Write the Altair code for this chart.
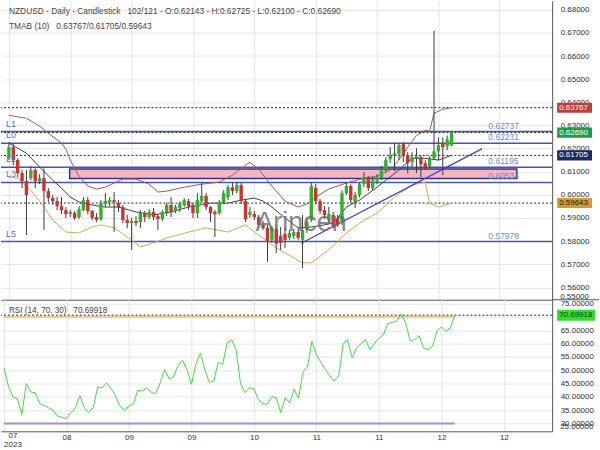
import altair as alt
import pandas as pd

FONT = "Liberation Sans"

# ---------------- data ----------------
opens = [0.6158, 0.6206, 0.6150, 0.6094, 0.6059, 0.6072, 0.6107, 0.6059, 0.6072, 0.6016,
         0.5986, 0.5973, 0.5951, 0.5934, 0.5917, 0.5921, 0.5904, 0.5934, 0.5977, 0.5930,
         0.5904, 0.5895, 0.5960, 0.5969, 0.5977, 0.5964, 0.5947, 0.5891, 0.5878, 0.5887,
         0.5882, 0.5921, 0.5904, 0.5926, 0.5908, 0.5895, 0.5926, 0.5956, 0.5930, 0.5943,
         0.5956, 0.5973, 0.5956, 0.5921, 0.5973, 0.5995, 0.5947, 0.5926, 0.5921, 0.5969,
         0.5990, 0.6033, 0.6016, 0.6042, 0.5973, 0.5913, 0.5917, 0.5904, 0.5870, 0.5857,
         0.5805, 0.5852, 0.5822, 0.5831, 0.5813, 0.5822, 0.5839, 0.5805, 0.5848, 0.5891,
         0.6029, 0.5973, 0.5934, 0.5891, 0.5913, 0.5900, 0.5878, 0.6007, 0.6038, 0.5969,
         0.5999, 0.6046, 0.6072, 0.6029, 0.6059, 0.6076, 0.6111, 0.6154, 0.6171, 0.6176,
         0.6219, 0.6171, 0.6141, 0.6158, 0.6163, 0.6137, 0.6124, 0.6158, 0.6188, 0.6223,
         0.6210, 0.62143]
highs = [0.6227, 0.6223, 0.6158, 0.6107, 0.6107, 0.6124, 0.6115, 0.6089, 0.6115, 0.6029,
         0.5999, 0.5990, 0.5990, 0.5947, 0.5934, 0.5930, 0.5951, 0.5990, 0.5990, 0.5934,
         0.5921, 0.5977, 0.6007, 0.5990, 0.6012, 0.5977, 0.5956, 0.5913, 0.5900, 0.5908,
         0.5934, 0.5930, 0.5938, 0.5943, 0.5917, 0.5934, 0.5964, 0.5990, 0.5956, 0.5969,
         0.5986, 0.5982, 0.5964, 0.6007, 0.6055, 0.6007, 0.5951, 0.5934, 0.5977, 0.6020,
         0.6042, 0.6051, 0.6055, 0.6051, 0.5982, 0.5947, 0.5930, 0.5913, 0.5887, 0.5870,
         0.5865, 0.5870, 0.5861, 0.5857, 0.5848, 0.5852, 0.5857, 0.5913, 0.5900, 0.6051,
         0.6046, 0.5982, 0.5951, 0.5947, 0.5926, 0.5913, 0.6020, 0.6055, 0.6046, 0.6012,
         0.6055, 0.6098, 0.6081, 0.6076, 0.6089, 0.6124, 0.6163, 0.6206, 0.6223, 0.6223,
         0.6227, 0.6184, 0.6184, 0.6201, 0.6171, 0.6150, 0.6167, 0.6710, 0.6249, 0.6249,
         0.6257, 0.62725]
lows = [0.6150, 0.6128, 0.6076, 0.6029, 0.5826, 0.6063, 0.6029, 0.6046, 0.5848, 0.5969,
        0.5956, 0.5934, 0.5917, 0.5900, 0.5904, 0.5891, 0.5895, 0.5930, 0.5917, 0.5891,
        0.5882, 0.5887, 0.5947, 0.5951, 0.5839, 0.5926, 0.5878, 0.5857, 0.5762, 0.5865,
        0.5857, 0.5882, 0.5895, 0.5891, 0.5848, 0.5887, 0.5908, 0.5904, 0.5921, 0.5926,
        0.5947, 0.5934, 0.5900, 0.5900, 0.5964, 0.5934, 0.5882, 0.5818, 0.5913, 0.5960,
        0.5977, 0.5999, 0.6007, 0.5960, 0.5882, 0.5900, 0.5891, 0.5857, 0.5848, 0.5710,
        0.5792, 0.5749, 0.5762, 0.5771, 0.5805, 0.5809, 0.5805, 0.5684, 0.5835, 0.5882,
        0.5960, 0.5917, 0.5895, 0.5874, 0.5857, 0.5861, 0.5870, 0.5999, 0.5964, 0.5943,
        0.5990, 0.6033, 0.6016, 0.6020, 0.6046, 0.6063, 0.6098, 0.6137, 0.6102, 0.6150,
        0.6141, 0.6094, 0.6120, 0.6094, 0.6076, 0.6107, 0.6115, 0.6150, 0.6150, 0.6085,
        0.6193, 0.62100]
closes = [0.6206, 0.6150, 0.6094, 0.6059, 0.5999, 0.6107, 0.6059, 0.6072, 0.6016, 0.5986,
          0.5973, 0.5951, 0.5934, 0.5917, 0.5926, 0.5900, 0.5938, 0.5977, 0.5930, 0.5900,
          0.5891, 0.5964, 0.5973, 0.5977, 0.5969, 0.5947, 0.5891, 0.5878, 0.5887, 0.5878,
          0.5921, 0.5904, 0.5926, 0.5904, 0.5895, 0.5926, 0.5956, 0.5926, 0.5947, 0.5960,
          0.5977, 0.5951, 0.5921, 0.5977, 0.5995, 0.5947, 0.5921, 0.5917, 0.5969, 0.6007,
          0.6033, 0.6016, 0.6042, 0.5973, 0.5895, 0.5926, 0.5904, 0.5870, 0.5857, 0.5801,
          0.5857, 0.5788, 0.5792, 0.5805, 0.5835, 0.5839, 0.5813, 0.5848, 0.5882, 0.6038,
          0.5973, 0.5930, 0.5913, 0.5917, 0.5865, 0.5870, 0.6007, 0.6038, 0.5977, 0.5999,
          0.6046, 0.6072, 0.6029, 0.6063, 0.6076, 0.6111, 0.6150, 0.6171, 0.6180, 0.6214,
          0.6171, 0.6137, 0.6163, 0.6167, 0.6132, 0.6120, 0.6154, 0.6188, 0.6214, 0.6206,
          0.6240, 0.62690]

# TMA bands (bar index, value)
upper_i = [0, 4, 7, 9, 12, 13, 14, 16, 18, 20, 22, 24, 26, 29, 32, 34, 36, 40, 44, 48,
           51, 54, 55, 57, 60, 63, 66, 68, 70, 73, 77, 81, 84, 87, 89, 91, 93, 95, 96, 97, 99, 101]
upper_v = [0.6344, 0.6331, 0.6297, 0.6266, 0.6223, 0.6197, 0.6150, 0.6081, 0.6038, 0.6025,
           0.6033, 0.6051, 0.6068, 0.6068, 0.6046, 0.6012, 0.6016, 0.6033, 0.6046, 0.6055,
           0.6085, 0.6128, 0.6141, 0.6111, 0.6038, 0.5973, 0.5947, 0.5960, 0.5990, 0.6025,
           0.6051, 0.6072, 0.6081, 0.6107, 0.6150, 0.6206, 0.6257, 0.6279, 0.6275, 0.6353,
           0.6370, 0.63767]
mid_i = [0, 4, 7, 10, 12, 14, 16, 19, 22, 25, 29, 33, 37, 41, 46, 50, 53, 56, 58, 60,
         63, 66, 69, 72, 74, 77, 80, 84, 86, 89, 92, 95, 98, 101]
mid_v = [0.6223, 0.6180, 0.6120, 0.6063, 0.6029, 0.5990, 0.5969, 0.5956, 0.5947, 0.5947,
         0.5926, 0.5913, 0.5926, 0.5947, 0.5964, 0.5964, 0.5977, 0.5986, 0.5973, 0.5947,
         0.5900, 0.5857, 0.5861, 0.5870, 0.5878, 0.5947, 0.5977, 0.6033, 0.6063, 0.6107,
         0.6158, 0.6158, 0.6150, 0.61705]
lower_i = [0, 2, 5, 8, 10, 13, 16, 19, 21, 24, 27, 30, 33, 36, 41, 45, 50, 54, 56, 61,
           67, 69, 73, 77, 80, 84, 88, 92, 95, 96, 98, 101]
lower_v = [0.6076, 0.6072, 0.6020, 0.5947, 0.5891, 0.5839, 0.5835, 0.5861, 0.5870, 0.5857,
           0.5818, 0.5775, 0.5792, 0.5813, 0.5839, 0.5857, 0.5839, 0.5870, 0.5839, 0.5771,
           0.5706, 0.5706, 0.5762, 0.5835, 0.5878, 0.5921, 0.5990, 0.6042, 0.6055, 0.5964,
           0.5947, 0.59643]

# RSI(14) per bar
rsi = [50.9, 44.0, 40.1, 39.3, 33.4, 45.0, 41.8, 41.6, 37.5, 36.8,
       35.9, 35.0, 32.8, 32.3, 31.9, 34.1, 35.9, 40.5, 35.9, 34.1,
       35.9, 43.8, 43.4, 45.3, 43.1, 40.3, 36.5, 34.9, 36.5, 37.4,
       42.5, 42.2, 43.4, 41.6, 41.3, 45.3, 50.3, 46.8, 47.5, 51.8,
       53.7, 50.3, 44.7, 52.2, 56.5, 50.3, 45.5, 45.9, 53.0, 52.2,
       60.3, 61.5, 57.8, 45.0, 41.6, 43.4, 43.1, 39.0, 37.5, 37.2,
       40.1, 39.7, 34.1, 39.7, 37.8, 42.8, 39.5, 49.3, 51.3, 60.9,
       55.9, 53.0, 50.3, 48.0, 45.9, 48.0, 60.0, 61.5, 54.7, 58.4,
       60.0, 61.5, 57.8, 60.0, 62.0, 63.4, 67.5, 68.0, 68.4, 71.1,
       67.8, 61.1, 61.5, 63.0, 58.4, 57.8, 59.0, 64.6, 66.3, 64.6,
       65.9, 70.69918]

levels = [0.62737, 0.62231, 0.61195, 0.60534, 0.57978]
level_names = ["L1", "L0", "L2", "L3", "L5"]
tma_last = [0.63767, 0.61705, 0.59643]
zone_i = [13.85, 115.9]
zone_p = [0.61117, 0.60707]
trend_i = [66.7, 108.0]
trend_v = [0.57905, 0.62000]
month_idx = [0, 14, 28, 42, 56, 70, 84, 98, 112]
month_lbl = ["07", "08", "09", "09", "10", "11", "11", "12", "12"]
year_lbl = "2023"
price_ticks = [round(0.56 + 0.01 * k, 2) for k in range(13)]
rsi_ticks = [30, 35, 40, 45, 50, 55, 60, 65, 70, 75]
rsi_levels = [70, 30]

# ---------------- styling ----------------
W, H_TOP, H_RSI = 553, 300, 132
X_DOMAIN = [-0.67, 122.82]
P_DOMAIN = [0.55462, 0.68392]
R_DOMAIN = [27.06, 76.5]
GRID = "#e6e6e6"
AXC = "#555555"
GREEN = "#2fb12f"
RED = "#d22f2f"
WICK = "#3c3c3c"
LEVELC = "#4a4fc4"
VALC = "#6d8bd6"
UPC, MIDC, LOWC = "#a45a52", "#3b4452", "#d6aa52"
TRENDC = "#3d45c9"

n = len(closes)
bars = pd.DataFrame({"i": list(range(n)), "open": opens, "high": highs,
                     "low": lows, "close": closes})

xsc = alt.Scale(domain=X_DOMAIN, nice=False, zero=False)
psc = alt.Scale(domain=P_DOMAIN, nice=False, zero=False)
rsc = alt.Scale(domain=R_DOMAIN, nice=False, zero=False)

x_top_axis = alt.Axis(values=month_idx, grid=True, gridColor=GRID, labels=False, ticks=False,
                      domainColor=AXC, title=None)
y_top_axis = alt.Axis(orient="right", values=price_ticks, format=".5f", grid=True, gridColor=GRID,
                      ticks=False, labelPadding=8, labelFontSize=8, labelColor="#333",
                      domainColor=AXC, title=None, labelOverlap=False, labelFlush=False)
expr = "".join(f"datum.value == {v} ? '{l}' : " for v, l in zip(month_idx[1:], month_lbl[1:])) + "''"
x_bot_axis = alt.Axis(values=month_idx, grid=True, gridColor=GRID, ticks=False, labelExpr=expr,
                      labelPadding=2, labelFontSize=8, labelColor="#333", domainColor=AXC,
                      title=None, labelFlush=False, labelOverlap=False)
y_bot_axis = alt.Axis(orient="right", values=rsi_ticks, format=".5f", grid=True, gridColor=GRID,
                      ticks=False, labelPadding=8, labelFontSize=8, labelColor="#333",
                      domainColor=AXC, title=None, labelOverlap=False, labelFlush=False)


def xt(f):
    return alt.X(f"{f}:Q", scale=xsc, axis=x_top_axis)


def yp(f):
    return alt.Y(f"{f}:Q", scale=psc, axis=y_top_axis)


def xb(f):
    return alt.X(f"{f}:Q", scale=xsc, axis=x_bot_axis)


def yr(f):
    return alt.Y(f"{f}:Q", scale=rsc, axis=y_bot_axis)


one = pd.DataFrame({"a": [0]})


def label(text, x, y, size=8, color="#333", align="left"):
    return alt.Chart(pd.DataFrame({"t": [text]})).mark_text(
        align=align, baseline="middle", fontSize=size, color=color).encode(
        x=alt.value(x), y=alt.value(y), text="t:N")


# ---------------- top (price) panel ----------------
zone = alt.Chart(pd.DataFrame({"i0": [zone_i[0]], "i1": [zone_i[1]],
                               "p0": [zone_p[0]], "p1": [zone_p[1]]})).mark_rect(
    fill="#f6b5c0", stroke="#2d3190", strokeWidth=1.5).encode(
    x=xt("i0"), x2="i1:Q", y=yp("p0"), y2="p1:Q")

lvl_df = pd.DataFrame({"value": levels, "name": level_names})
lvl_lines = alt.Chart(lvl_df).mark_rule(color=LEVELC, strokeWidth=1.5).encode(y=yp("value"))
lvl_names = alt.Chart(lvl_df).mark_text(align="left", baseline="middle", dy=-8, fontSize=9,
                                        color="#5a72cc").encode(
    x=alt.value(5), y=yp("value"), text="name:N")
lvl_vals = alt.Chart(lvl_df).mark_text(align="left", baseline="middle", dy=-6, fontSize=8.5,
                                       color=VALC).encode(
    x=alt.value(489), y=yp("value"), text=alt.Text("value:Q", format=".5f"))

dash_df = pd.DataFrame({"value": tma_last + [closes[-1]]})
dashes = alt.Chart(dash_df).mark_rule(color="#222", strokeDash=[2, 2], strokeWidth=1).encode(
    y=yp("value"))

band_layers = []
for bi, bv, col in [(upper_i, upper_v, UPC), (mid_i, mid_v, MIDC), (lower_i, lower_v, LOWC)]:
    band_layers.append(alt.Chart(pd.DataFrame({"i": bi, "v": bv})).mark_line(
        color=col, strokeWidth=1).encode(x=xt("i"), y=yp("v"), order="i:Q"))

trend = alt.Chart(pd.DataFrame({"i": trend_i, "v": trend_v})).mark_line(
    color=TRENDC, strokeWidth=1.3).encode(x=xt("i"), y=yp("v"))

wicks = alt.Chart(bars).mark_rule(color=WICK, strokeWidth=1).encode(
    x=xt("i"), y=yp("low"), y2="high:Q")
up = alt.Chart(bars).transform_filter("datum.close >= datum.open").mark_bar(
    size=3.4, color=GREEN).encode(x=xt("i"), y=yp("open"), y2="close:Q")
down = alt.Chart(bars).transform_filter("datum.close < datum.open").mark_bar(
    size=3.4, color=RED).encode(x=xt("i"), y=yp("open"), y2="close:Q")

watermark = alt.Chart(one).mark_text(text="Arincen", fontSize=27, color="#6a6a6a",
                                     opacity=0.8, align="center", baseline="middle").encode(
    x=alt.value(301), y=alt.value(223))

title1 = ("NZDUSD - Daily - Candlestick\u00a0\u00a0\u00a0" + f"{n}/121 - O:{opens[-1]:.5f} - "
          f"H:{highs[-1]:.5f} - L:{lows[-1]:.5f} - C:{closes[-1]:.5f}")
title2 = "TMAB (10)\u00a0\u00a0\u00a0" + "/".join(f"{v:.5f}" for v in tma_last)
t1 = label(title1, 8, 10.5, size=8.4, color="#444")
t2 = label(title2, 8, 25.5, size=8.4, color="#444")

badge_df = pd.DataFrame({
    "value": [tma_last[0], closes[-1], tma_last[1], tma_last[2]],
    "fill": ["#c23b3b", "#1f9e48", "#1e2a5e", "#cf9c30"],
    "txt": ["#ffffff", "#ffffff", "#ffffff", "#2b2200"],
})
badge_rect = alt.Chart(badge_df).transform_calculate(
    top="datum.value + 0.00218", bot="datum.value - 0.00218").mark_rect().encode(
    x=alt.value(558), x2=alt.value(593), y=yp("top"), y2="bot:Q",
    fill=alt.Fill("fill:N", scale=None))
badge_txt = alt.Chart(badge_df).mark_text(align="left", baseline="middle", fontSize=8).encode(
    x=alt.value(560), y=yp("value"), text=alt.Text("value:Q", format=".5f"),
    color=alt.Color("txt:N", scale=None))

sep = alt.Chart(one).mark_rule(color=AXC).encode(
    x=alt.value(553), x2=alt.value(600), y=alt.value(300))
clamp55 = label(f"{0.55:.5f}", 561, 297)

top = alt.layer(zone, lvl_lines, dashes, *band_layers, trend, wicks, up, down,
                lvl_names, lvl_vals, watermark, badge_rect, badge_txt, t1, t2, sep,
                clamp55).properties(width=W, height=H_TOP)

# ---------------- bottom (RSI) panel ----------------
rsi_df = pd.DataFrame({"i": list(range(n)), "rsi": rsi})
rsi_line = alt.Chart(rsi_df).mark_line(color="#45d845", strokeWidth=1).encode(
    x=xb("i"), y=yr("rsi"))

rl_df = pd.DataFrame({"level": rsi_levels, "i0": [0, 0], "i1": [n - 1, n - 1],
                      "c": ["#f5c98c", "#a98ed6"]})
rsi_lv = alt.Chart(rl_df).mark_rule(strokeWidth=2).encode(
    x=xb("i0"), x2="i1:Q", y=yr("level"), color=alt.Color("c:N", scale=None))
rsi_dash = alt.Chart(pd.DataFrame({"v": [rsi[-1]]})).mark_rule(
    color="#222", strokeDash=[2, 2], strokeWidth=1).encode(y=yr("v"))
rsi_badge = alt.Chart(pd.DataFrame({"v": [rsi[-1]]})).transform_calculate(
    top="datum.v + 2.06", bot="datum.v - 2.06").mark_rect(color="#2ee02e").encode(
    x=alt.value(558), x2=alt.value(596), y=yr("top"), y2="bot:Q")
rsi_badge_t = alt.Chart(pd.DataFrame({"v": [rsi[-1]]})).mark_text(
    align="left", baseline="middle", fontSize=8, color="#0d3d0d").encode(
    x=alt.value(560), y=yr("v"), text=alt.Text("v:Q", format=".5f"))
rsi_title = label(f"RSI (14, 70, 30)\u00a0\u00a0\u00a0{rsi[-1]:.5f}", 8, 11.5, size=8.2, color="#444")
clamp25 = label(f"{25:.5f}", 561, 127.5)
first_lbl = alt.Chart(pd.DataFrame({"i": [month_idx[0]], "t": [month_lbl[0] + "\n" + year_lbl]})).mark_text(
    align="center", baseline="top", fontSize=8, color="#333", lineBreak="\n", lineHeight=8.5,
    dx=9).encode(x=xb("i"), y=alt.value(133), text="t:N")

bottom = alt.layer(rsi_lv, rsi_dash, rsi_line, rsi_badge, rsi_badge_t, rsi_title, clamp25,
                   first_lbl).properties(width=W, height=H_RSI)

chart = alt.vconcat(top, bottom, spacing=0, bounds="flush").properties(
    padding={"left": 0, "top": 0, "right": 0, "bottom": 0}
).configure_view(stroke=None).configure_axis(labelFont=FONT).configure_text(font=FONT)

chart.save("out.html", embed_options={"renderer": "svg", "actions": False})
